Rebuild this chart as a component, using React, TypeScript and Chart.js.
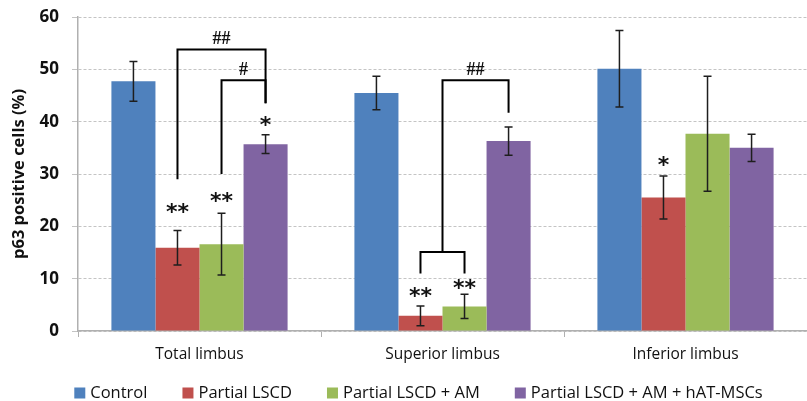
import React, { useEffect, useRef } from 'react';
import { Chart, registerables } from 'chart.js';

Chart.register(...registerables);

const categories = ['Total limbus', 'Superior limbus', 'Inferior limbus'];
const seriesNames = ['Control', 'Partial LSCD', 'Partial LSCD + AM', 'Partial LSCD + AM + hAT-MSCs'];
const controlMean = [47.7, 45.5, 50.1];
const controlSD = [3.8, 3.2, 7.3];
const lscdMean = [15.9, 2.9, 25.5];
const lscdSD = [3.3, 1.9, 4.1];
const amMean = [16.6, 4.7, 37.7];
const amSD = [5.9, 2.3, 11.0];
const mscMean = [35.7, 36.3, 35.0];
const mscSD = [1.8, 2.7, 2.6];
const yMin = 0;
const yMax = 60;
const yStep = 10;
const colors = ['#4F81BD', '#C0504D', '#9BBB59', '#8064A2'];

// significance stars: series index, category index, text, value level
const starSeries = [1, 2, 3, 1, 2, 1];
const starCats = [0, 0, 0, 1, 1, 2];
const starTexts = ['**', '**', '*', '**', '**', '*'];
const starLevels = [23.2, 25.3, 39.8, 7.2, 8.7, 32.3];

// brackets: category, from series, to series, left leg low, right leg low, top level, label
const bracketCats = [0, 0, 1, 1];
const bracketFrom = [1, 2, 1.5, 1];
const bracketTo = [3, 3, 3, 2];
const bracketLeftLow = [29.0, 30.0, 15.1, 11.0];
const bracketRightLow = [43.5, 43.5, 41.7, 11.0];
const bracketTop = [53.8, 47.9, 47.9, 15.1];
const bracketLabels = ['##', '#', '##', ''];

const means = [controlMean, lscdMean, amMean, mscMean];
const sds = [controlSD, lscdSD, amSD, mscSD];

const FONT = '"Open Sans", Lato, sans-serif';

const annotPlugin = {
  id: 'annot',
  afterDatasetsDraw(chart: any) {
    const ctx = chart.ctx;
    const ys = chart.scales.y;
    const barX = (s: number, c: number) => {
      const lo = Math.floor(s);
      const hi = Math.ceil(s);
      const a = chart.getDatasetMeta(lo).data[c].x;
      const b = chart.getDatasetMeta(hi).data[c].x;
      return a + (b - a) * (s - lo);
    };
    ctx.save();
    // error bars
    ctx.strokeStyle = '#1e1e1e';
    ctx.lineWidth = 1.5;
    means.forEach((m, s) => {
      m.forEach((v, c) => {
        const x = barX(s, c);
        const sd = sds[s][c];
        const yt = ys.getPixelForValue(v + sd);
        const yb = ys.getPixelForValue(v - sd);
        ctx.beginPath();
        ctx.moveTo(x, yt);
        ctx.lineTo(x, yb);
        ctx.moveTo(x - 4, yt);
        ctx.lineTo(x + 4, yt);
        ctx.moveTo(x - 4, yb);
        ctx.lineTo(x + 4, yb);
        ctx.stroke();
      });
    });
    // brackets
    ctx.strokeStyle = '#000';
    ctx.lineWidth = 2;
    ctx.fillStyle = '#111';
    bracketCats.forEach((c, i) => {
      const x1 = barX(bracketFrom[i], c);
      const x2 = barX(bracketTo[i], c);
      const yt = ys.getPixelForValue(bracketTop[i]);
      ctx.beginPath();
      ctx.moveTo(x1, ys.getPixelForValue(bracketLeftLow[i]));
      ctx.lineTo(x1, yt);
      ctx.lineTo(x2, yt);
      ctx.lineTo(x2, ys.getPixelForValue(bracketRightLow[i]));
      ctx.stroke();
      if (bracketLabels[i]) {
        ctx.font = 'bold 18px "Liberation Serif", serif';
        ctx.textAlign = 'center';
        ctx.textBaseline = 'middle';
        ctx.fillText(bracketLabels[i], (x1 + x2) / 2, yt - 10);
      }
    });
    // stars
    ctx.font = 'bold 22px "DejaVu Sans", sans-serif';
    ctx.textAlign = 'center';
    ctx.textBaseline = 'middle';
    starSeries.forEach((s, i) => {
      const x = barX(s, starCats[i]);
      const y = ys.getPixelForValue(starLevels[i]);
      ctx.fillText(starTexts[i], x, y + 4);
    });
    ctx.restore();
  },
  afterDraw(chart: any) {
    const ctx = chart.ctx;
    ctx.save();
    ctx.font = '16.5px ' + FONT;
    const box = 12;
    const gap = 4;
    const itemGap = 35;
    const widths = seriesNames.map((n) => box + gap + ctx.measureText(n).width);
    const total = widths.reduce((a, b) => a + b, 0) + itemGap * (seriesNames.length - 1);
    let x = chart.width / 2 + 15 - total / 2;
    const cy = 393;
    ctx.textBaseline = 'middle';
    ctx.textAlign = 'left';
    seriesNames.forEach((n, i) => {
      ctx.fillStyle = colors[i];
      ctx.fillRect(x, cy - 5.5, box - 1, box - 1);
      ctx.fillStyle = '#111';
      ctx.fillText(n, x + box + gap, cy);
      x += widths[i] + itemGap;
    });
    ctx.restore();
  },
};

export default function App() {
  const ref = useRef<HTMLCanvasElement | null>(null);
  useEffect(() => {
    if (!ref.current) return;
    const chart = new Chart(ref.current, {
      type: 'bar',
      data: {
        labels: categories,
        datasets: seriesNames.map((name, i) => ({
          label: name,
          data: means[i],
          backgroundColor: colors[i],
          borderWidth: 0,
          categoryPercentage: 0.725,
          barPercentage: 1.0,
        })),
      },
      options: {
        animation: false,
        responsive: false,
        layout: { padding: { top: 17, right: 0, bottom: 30, left: 0 } },
        plugins: {
          legend: { display: false },
          tooltip: { enabled: false },
        },
        scales: {
          x: {
            grid: {
              display: true,
              drawOnChartArea: false,
              drawTicks: true,
              tickLength: 6,
              color: '#b0b0b0',
              offset: true,
            },
            border: { display: true, color: '#b0b0b0', width: 1.5 },
            ticks: {
              font: { family: FONT, size: 15.5 },
              color: '#111',
              padding: 8,
            },
            afterFit: (scale: any) => {
              scale.height = 40;
              scale.paddingLeft = 0;
              scale.paddingRight = 0;
            },
          },
          y: {
            min: yMin,
            max: yMax,
            ticks: {
              stepSize: yStep,
              font: { family: FONT, size: 17, weight: 'bold' },
              color: '#111',
              padding: 13,
            },
            grid: {
              color: '#c4c4c4',
              tickLength: 6,
              lineWidth: 1,
            },
            border: { display: true, color: '#b0b0b0', width: 1.5, dash: [3, 2] },
            title: {
              display: true,
              text: 'p63 positive cells (%)',
              font: { family: FONT, size: 16.5, weight: 'bold' },
              color: '#111',
              padding: { top: 9, bottom: 0 },
            },
            afterFit: (scale: any) => {
              scale.width = 78;
              scale.paddingTop = 0;
              scale.paddingBottom = 0;
            },
          },
        },
      },
      plugins: [annotPlugin],
    });
    return () => chart.destroy();
  }, []);
  return (
    <div style={{ position: 'absolute', left: 0, top: 0, width: 807, height: 401, background: '#fff' }}>
      <canvas ref={ref} width={807} height={401} style={{ display: 'block' }} />
    </div>
  );
}
